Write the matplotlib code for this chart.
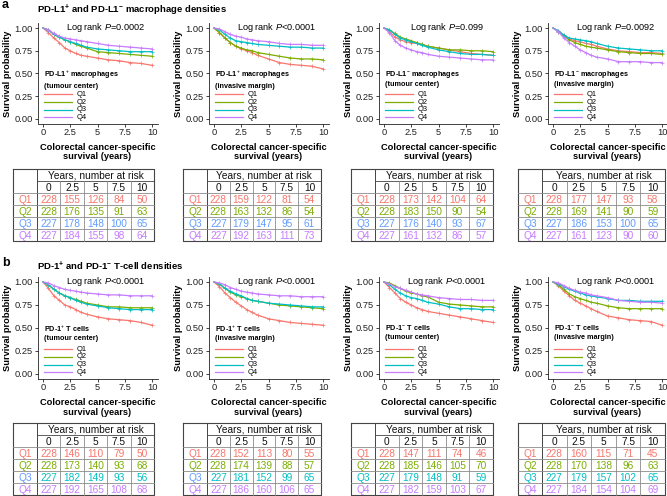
'''
Kaplan-Meier panels with number-at-risk tables (PD-L1 macrophages / PD-1 T cells)
'''
import matplotlib
matplotlib.use('Agg')
import matplotlib.pyplot as plt

plt.rcParams['font.family'] = ['Liberation Sans', 'DejaVu Sans']
plt.rcParams['mathtext.fontset'] = 'custom'
plt.rcParams['mathtext.rm'] = 'Liberation Sans'
plt.rcParams['mathtext.it'] = 'Liberation Sans:italic'
plt.rcParams['mathtext.bf'] = 'Liberation Sans:bold'

TIMES = [0, 0.5, 1, 1.5, 2, 2.5, 3, 3.5, 4, 5, 6, 7, 8, 9, 10]
QUARTILES = ['Q1', 'Q2', 'Q3', 'Q4']
RISK_YEARS = ['0', '2.5', '5', '7.5', '10']

# panel a: PD-L1+ / PD-L1- macrophages
A1_SURV = [[1.0, 0.95, 0.89, 0.84, 0.78, 0.75, 0.72, 0.70, 0.69, 0.67, 0.65, 0.64, 0.62, 0.61, 0.59],
           [1.0, 0.98, 0.93, 0.90, 0.87, 0.85, 0.82, 0.80, 0.78, 0.74, 0.73, 0.72, 0.71, 0.70, 0.69],
           [1.0, 0.98, 0.93, 0.90, 0.87, 0.85, 0.83, 0.81, 0.79, 0.77, 0.76, 0.75, 0.74, 0.74, 0.74],
           [1.0, 0.98, 0.94, 0.91, 0.89, 0.88, 0.87, 0.86, 0.85, 0.83, 0.81, 0.80, 0.79, 0.78, 0.77]]
A2_SURV = [[1.0, 0.95, 0.89, 0.84, 0.80, 0.77, 0.75, 0.73, 0.70, 0.66, 0.62, 0.60, 0.59, 0.58, 0.55],
           [1.0, 0.95, 0.89, 0.84, 0.80, 0.78, 0.76, 0.75, 0.73, 0.71, 0.69, 0.67, 0.66, 0.66, 0.65],
           [1.0, 0.98, 0.93, 0.89, 0.86, 0.85, 0.84, 0.83, 0.82, 0.81, 0.80, 0.79, 0.79, 0.78, 0.78],
           [1.0, 0.99, 0.96, 0.93, 0.91, 0.90, 0.88, 0.87, 0.86, 0.85, 0.83, 0.82, 0.82, 0.81, 0.81]]
A3_SURV = [[1.0, 0.96, 0.90, 0.87, 0.85, 0.84, 0.83, 0.82, 0.80, 0.78, 0.76, 0.74, 0.72, 0.71, 0.70],
           [1.0, 0.98, 0.94, 0.90, 0.88, 0.86, 0.84, 0.82, 0.80, 0.78, 0.76, 0.76, 0.75, 0.75, 0.74],
           [1.0, 0.98, 0.93, 0.89, 0.87, 0.85, 0.83, 0.81, 0.79, 0.76, 0.74, 0.72, 0.71, 0.71, 0.70],
           [1.0, 0.95, 0.86, 0.81, 0.78, 0.76, 0.74, 0.73, 0.71, 0.69, 0.68, 0.67, 0.66, 0.65, 0.65]]
A4_SURV = [[1.0, 0.97, 0.92, 0.88, 0.86, 0.85, 0.83, 0.82, 0.80, 0.77, 0.75, 0.74, 0.73, 0.73, 0.72],
           [1.0, 0.96, 0.91, 0.87, 0.84, 0.82, 0.80, 0.79, 0.78, 0.76, 0.74, 0.73, 0.72, 0.72, 0.71],
           [1.0, 0.97, 0.92, 0.89, 0.88, 0.87, 0.86, 0.85, 0.83, 0.80, 0.78, 0.77, 0.76, 0.75, 0.75],
           [1.0, 0.96, 0.89, 0.84, 0.80, 0.76, 0.73, 0.70, 0.68, 0.66, 0.63, 0.63, 0.63, 0.62, 0.62]]
# panel b: PD-1+ / PD-1- T cells
B1_SURV = [[1.0, 0.93, 0.85, 0.80, 0.75, 0.73, 0.70, 0.67, 0.65, 0.62, 0.60, 0.59, 0.58, 0.56, 0.53],
           [1.0, 0.97, 0.92, 0.88, 0.85, 0.83, 0.81, 0.79, 0.77, 0.75, 0.73, 0.73, 0.72, 0.72, 0.72],
           [1.0, 0.97, 0.92, 0.88, 0.85, 0.83, 0.80, 0.78, 0.76, 0.74, 0.72, 0.71, 0.70, 0.70, 0.70],
           [1.0, 0.99, 0.96, 0.94, 0.92, 0.91, 0.90, 0.89, 0.88, 0.87, 0.86, 0.86, 0.85, 0.85, 0.85]]
B2_SURV = [[1.0, 0.95, 0.88, 0.83, 0.78, 0.74, 0.70, 0.67, 0.64, 0.60, 0.58, 0.56, 0.55, 0.54, 0.53],
           [1.0, 0.98, 0.93, 0.89, 0.86, 0.84, 0.82, 0.80, 0.79, 0.77, 0.75, 0.74, 0.73, 0.72, 0.71],
           [1.0, 0.98, 0.93, 0.90, 0.87, 0.85, 0.82, 0.80, 0.79, 0.77, 0.76, 0.75, 0.74, 0.73, 0.73],
           [1.0, 0.99, 0.97, 0.94, 0.92, 0.90, 0.89, 0.88, 0.87, 0.86, 0.85, 0.85, 0.84, 0.84, 0.84]]
B3_SURV = [[1.0, 0.94, 0.88, 0.82, 0.78, 0.75, 0.72, 0.70, 0.68, 0.66, 0.64, 0.62, 0.60, 0.58, 0.56],
           [1.0, 0.99, 0.96, 0.93, 0.90, 0.88, 0.87, 0.85, 0.84, 0.78, 0.76, 0.75, 0.74, 0.73, 0.73],
           [1.0, 0.97, 0.92, 0.88, 0.85, 0.83, 0.82, 0.80, 0.78, 0.76, 0.73, 0.71, 0.71, 0.70, 0.70],
           [1.0, 0.98, 0.95, 0.93, 0.91, 0.89, 0.87, 0.86, 0.85, 0.83, 0.82, 0.81, 0.81, 0.80, 0.80]]
B4_SURV = [[1.0, 0.96, 0.90, 0.85, 0.80, 0.77, 0.74, 0.71, 0.68, 0.63, 0.61, 0.59, 0.58, 0.57, 0.53],
           [1.0, 0.97, 0.92, 0.87, 0.84, 0.82, 0.80, 0.78, 0.77, 0.74, 0.72, 0.71, 0.71, 0.71, 0.71],
           [1.0, 0.98, 0.95, 0.92, 0.90, 0.88, 0.86, 0.85, 0.84, 0.82, 0.80, 0.80, 0.79, 0.79, 0.79],
           [1.0, 0.99, 0.96, 0.93, 0.91, 0.89, 0.88, 0.86, 0.85, 0.83, 0.80, 0.79, 0.78, 0.78, 0.77]]

# numbers at risk
A1_RISK = [[228, 155, 126, 84, 50], [228, 176, 135, 91, 63], [227, 178, 148, 100, 65], [227, 184, 155, 98, 64]]
A2_RISK = [[228, 159, 122, 81, 54], [228, 163, 132, 86, 54], [227, 179, 147, 95, 61], [227, 192, 163, 111, 73]]
A3_RISK = [[228, 173, 142, 104, 64], [228, 183, 150, 90, 54], [227, 176, 140, 93, 67], [227, 161, 132, 86, 57]]
A4_RISK = [[228, 177, 147, 93, 58], [228, 169, 141, 90, 59], [227, 186, 153, 100, 65], [227, 161, 123, 90, 60]]
B1_RISK = [[228, 146, 110, 79, 50], [228, 173, 140, 93, 68], [227, 182, 149, 93, 56], [227, 192, 165, 108, 68]]
B2_RISK = [[228, 152, 113, 80, 55], [228, 174, 139, 88, 57], [227, 181, 152, 99, 65], [227, 186, 160, 106, 65]]
B3_RISK = [[228, 147, 111, 74, 46], [228, 185, 146, 105, 70], [227, 179, 148, 91, 59], [227, 182, 159, 103, 67]]
B4_RISK = [[228, 160, 115, 71, 45], [228, 170, 138, 96, 63], [227, 179, 157, 102, 65], [227, 184, 154, 104, 69]]

A_PVALUES = ['=0.0002', '<0.0001', '=0.099', '=0.0092']
B_PVALUES = ['<0.0001', '<0.0001', '<0.0001', '<0.0001']
A_TITLES = ['PD-L1$^{+}$ macrophages\n(tumour center)', 'PD-L1$^{+}$ macrophages\n(invasive margin)',
            'PD-L1$^{-}$ macrophages\n(tumour center)', 'PD-L1$^{-}$ macrophages\n(invasive margin)']
B_TITLES = ['PD-1$^{+}$ T cells\n(tumour center)', 'PD-1$^{+}$ T cells\n(invasive margin)',
            'PD-1$^{-}$ T cells\n(tumour center)', 'PD-1$^{-}$ T cells\n(invasive margin)']

COLORS = ['#F8766D', '#7CAE00', '#00BFC4', '#C77CFF']
TABLE_BLUE = '#619CFF'

W, H = 667, 496
fig = plt.figure(figsize=(W / 100, H / 100), dpi=100)


def px_axes(left, top, width, height):
    return fig.add_axes([left / W, 1 - (top + height) / H, width / W, height / H])


def plot_km(ax, surv, pval, title):
    for i, s in enumerate(surv):
        ax.plot(TIMES, s, color=COLORS[i], lw=0.9)
        ax.plot(TIMES[1:], s[1:], ls='none', marker='+', ms=2.2, mew=0.5, color=COLORS[i])
    ax.set_xlim(-0.5, 10.5)
    ax.set_ylim(-0.05, 1.05)
    ax.set_xticks([0, 2.5, 5, 7.5, 10])
    ax.set_xticklabels(RISK_YEARS)
    ax.set_yticks([0, 0.25, 0.5, 0.75, 1.0])
    ax.set_yticklabels(['0.00', '0.25', '0.50', '0.75', '1.00'])
    for side in ['top', 'right']:
        ax.spines[side].set_visible(False)
    for side in ['left', 'bottom']:
        ax.spines[side].set_linewidth(0.6)
        ax.spines[side].set_color('#222222')
    ax.tick_params(labelsize=6.7, length=2, width=0.6, pad=1.5, colors='#222222')
    ax.set_ylabel('Survival probability', fontsize=6.7, fontweight='bold')
    ax.yaxis.set_label_coords(-0.215, 0.5)
    ax.set_xlabel('Colorectal cancer-specific\nsurvival (years)', fontsize=6.7,
                  fontweight='bold', linespacing=1.1, va='top')
    ax.xaxis.set_label_coords(0.5, -0.19)
    ax.text(0.57, 0.955, 'Log rank $P$' + pval, transform=ax.transAxes,
            ha='center', va='center', fontsize=6.6)
    # legend (title + quartile keys) in axes coordinates
    ax.text(0.05, 0.545, title, transform=ax.transAxes, ha='left', va='top',
            fontsize=5.2, fontweight='bold', linespacing=1.25)
    for i, q in enumerate(QUARTILES):
        y = 0.291 - i * 0.076
        ax.plot([0.05, 0.285], [y, y], transform=ax.transAxes, color=COLORS[i], lw=0.9)
        ax.text(0.325, y, q, transform=ax.transAxes, ha='left', va='center', fontsize=5.4)


def draw_table(left, top, width, risk, q3_label, q3_num):
    ax = px_axes(left, top, width, 72)
    ax.set_xlim(0, width)
    ax.set_ylim(6, 0)
    ax.axis('off')
    lab_w = 24
    col_w = (width - lab_w) / 5
    dark, light = '#444444', '#8a8a8a'
    ax.plot([0, width, width, 0, 0], [0, 0, 6, 6, 0], color=dark, lw=0.8, clip_on=False)
    ax.plot([lab_w, lab_w], [0, 6], color=dark, lw=0.7, clip_on=False)
    ax.plot([lab_w, width], [1, 1], color=dark, lw=0.6, clip_on=False)
    for r in range(2, 6):
        ax.plot([0, width], [r, r], color=light, lw=0.6, clip_on=False)
    for c in range(1, 5):
        x = lab_w + c * col_w
        ax.plot([x, x], [1, 6], color=light, lw=0.6, clip_on=False)
    ax.text(lab_w + (width - lab_w) / 2, 0.55, 'Years, number at risk',
            ha='center', va='center', fontsize=7.3, color='#111111')
    for c, yr in enumerate(RISK_YEARS):
        ax.text(lab_w + (c + 0.5) * col_w, 1.55, yr, ha='center', va='center',
                fontsize=7.3, color='#111111')
    for r, row in enumerate(risk):
        lc = q3_label if r == 2 else COLORS[r]
        nc = q3_num if r == 2 else COLORS[r]
        ax.text(lab_w / 2, r + 2.55, QUARTILES[r], ha='center', va='center', fontsize=7.3, color=lc)
        for c, n in enumerate(row):
            ax.text(lab_w + (c + 0.5) * col_w, r + 2.55, str(n), ha='center', va='center',
                    fontsize=7.3, color=nc)


tick0 = [43, 214, 384, 553]
table_left = [13, 183, 351, 518]
table_width = [141, 138, 142, 147]

a_surv = [A1_SURV, A2_SURV, A3_SURV, A4_SURV]
b_surv = [B1_SURV, B2_SURV, B3_SURV, B4_SURV]
a_risk = [A1_RISK, A2_RISK, A3_RISK, A4_RISK]
b_risk = [B1_RISK, B2_RISK, B3_RISK, B4_RISK]

for k in range(4):
    ax = px_axes(tick0[k] - 5.45, 23.5, 120, 100)
    plot_km(ax, a_surv[k], A_PVALUES[k], A_TITLES[k])
    draw_table(table_left[k], 169, table_width[k], a_risk[k], TABLE_BLUE, TABLE_BLUE)

    ax = px_axes(tick0[k] - 5.45, 277.4, 120, 101.2)
    plot_km(ax, b_surv[k], B_PVALUES[k], B_TITLES[k])
    q3_lab = TABLE_BLUE if k < 2 else COLORS[2]
    draw_table(table_left[k], 423, table_width[k], b_risk[k], q3_lab, COLORS[2])

fig.text(2 / W, 1 - 5 / H, 'a', fontsize=9, fontweight='bold', va='center', ha='left')
fig.text(37 / W, 1 - 10 / H, r'PD-L1$^{\mathbf{+}}$ and PD-L1$^{\mathbf{-}}$ macrophage densities',
         fontsize=6.8, fontweight='bold', va='center', ha='left')
fig.text(2 / W, 1 - 263 / H, 'b', fontsize=9, fontweight='bold', va='center', ha='left')
fig.text(37 / W, 1 - 266 / H, r'PD-1$^{\mathbf{+}}$ and PD-1$^{\mathbf{-}}$ T-cell densities',
         fontsize=6.8, fontweight='bold', va='center', ha='left')

fig.savefig('out.png', dpi=100)
